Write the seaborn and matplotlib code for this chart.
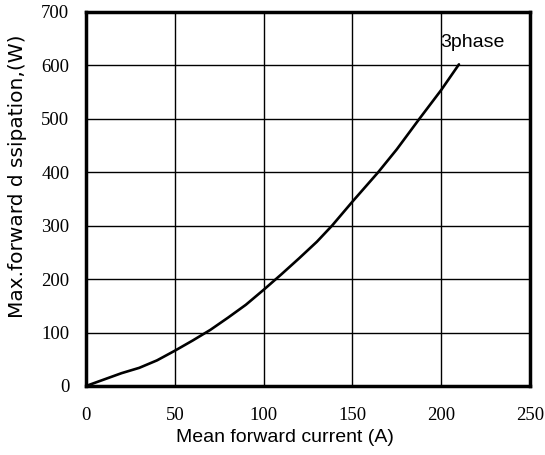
import matplotlib
matplotlib.use("Agg")
import matplotlib.pyplot as plt
import seaborn as sns
import pandas as pd

current = [0, 10, 20, 30, 40, 50, 60, 70, 80, 90, 100, 110, 120, 130, 138.5, 150, 164.5, 175, 187.7, 200, 210]
power = [0, 12, 24, 34, 48, 66, 85, 105, 128, 152, 180, 209, 239, 270, 300, 345, 400, 443, 500, 554, 602]
x_ticks = [0, 50, 100, 150, 200, 250]
y_ticks = [0, 100, 200, 300, 400, 500, 600, 700]

df = pd.DataFrame({"current": current, "power": power})

sns.set_style("white", {"text.color": "black", "xtick.color": "black", "ytick.color": "black",
                        "axes.labelcolor": "black"})
fig = plt.figure(figsize=(5.45, 4.55), dpi=100)
ax = fig.add_axes([86/545, 69/455, 444/545, 374/455])

sns.lineplot(data=df, x="current", y="power", ax=ax, color="black", linewidth=1.9, sort=False)

ax.set_xlim(0, 250)
ax.set_ylim(0, 700)
ax.set_xticks(x_ticks)
ax.set_yticks(y_ticks)
ax.grid(True, color="black", linewidth=1.0)
ax.set_axisbelow(True)
for s in ax.spines.values():
    s.set_visible(True)
    s.set_color("black")
    s.set_linewidth(2.5)

ax.tick_params(axis="both", length=0, labelsize=13.5, labelcolor="black")
ax.tick_params(axis="x", pad=15)
ax.tick_params(axis="y", pad=12)
for lab in ax.get_xticklabels() + ax.get_yticklabels():
    lab.set_fontfamily("Liberation Serif")

ax.set_xlabel("Mean forward current (A)", fontsize=14, family="Liberation Sans", color="black")
ax.xaxis.set_label_coords((285 - 86) / 444, (386 - 438) / 374)
ax.xaxis.label.set_va("center")
ax.set_ylabel("Max.forward d ssipation,(W)", fontsize=14.5, family="DejaVu Sans", color="black")
ax.yaxis.set_label_coords((18 - 86) / 444, (386 - 176) / 374)
ax.yaxis.label.set_va("center")

ax.text(199.5, 642, "3phase", fontsize=14, family="Liberation Sans", ha="left", va="center",
        color="black")

fig.savefig("out.png", dpi=100)
